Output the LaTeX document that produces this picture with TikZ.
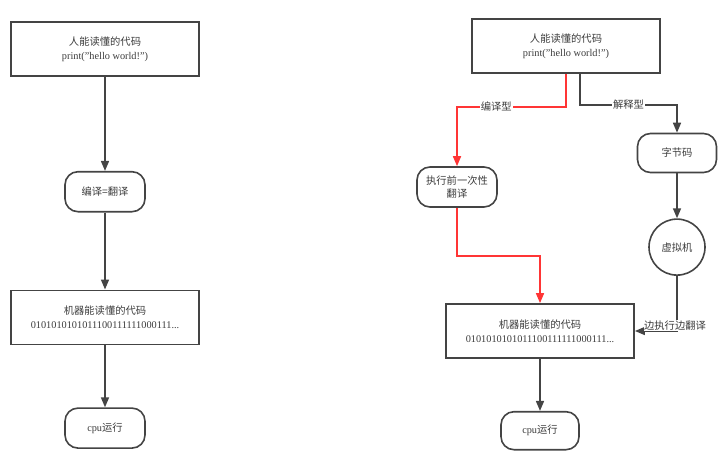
\documentclass[tikz,border=0pt]{standalone}
\usepackage{fontspec}
\setmainfont{Liberation Serif}
\newfontfamily\cjk{Noto Sans CJK SC}
\usetikzlibrary{arrows.meta,positioning}
\newcommand{\zh}[1]{{\cjk #1}}
\definecolor{linegray}{HTML}{444444}
\definecolor{textgray}{HTML}{3C3C3C}
\definecolor{flowred}{HTML}{FF3535}

\begin{document}
\begin{tikzpicture}[>={Triangle[length=10pt,width=8pt]}, line width=1.6pt,
      every node/.style={text=textgray, font=\fontsize{10.3}{13.5}\selectfont, align=center},
      codebox/.style={draw=linegray, line width=1.8pt, minimum width=188pt, minimum height=54pt},
      stepround/.style={draw=linegray, rounded corners=13pt, minimum width=80pt, minimum height=40pt},
      vmcircle/.style={draw=linegray, circle, minimum size=56pt, inner sep=0pt},
      flow/.style={->, draw=linegray},
      redflow/.style={->, draw=flowred},
      flowlabel/.style={fill=white, inner sep=1pt}]
     \useasboundingbox (0,0) rectangle (727pt,-466pt);
     % left: compiled once
     \node[codebox] (ltop) at (105pt,-49pt) {\zh{人能读懂的代码}\\print("hello world!")};
     \node[stepround, below = 94pt of ltop] (lcomp) {\zh{编译=翻译}};
     \node[codebox, below = 77pt of lcomp] (lmach) {\zh{机器能读懂的代码}\\0101010101011100111111000111...};
     \node[stepround, below = 62pt of lmach] (lcpu) {cpu\zh{运行}};
     \draw[flow] (ltop) -- (lcomp);
     \draw[flow] (lcomp) -- (lmach);
     \draw[flow] (lmach) -- (lcpu);
     % right: compiled vs interpreted
     \node[codebox] (rtop) at (566pt,-46pt) {\zh{人能读懂的代码}\\print("hello world!")};
     \node[stepround] (raot) at (457pt,-187pt) {\zh{执行前一次性}\\\zh{翻译}};
     \node[stepround, minimum width=79pt, minimum height=39pt] (rbyte) at (677pt,-153pt) {\zh{字节码}};
     \node[vmcircle, below = 45pt of rbyte] (rvm) {\zh{虚拟机}};
     \node[codebox] (rmach) at (540pt,-331pt) {\zh{机器能读懂的代码}\\0101010101011100111111000111...};
     \node[stepround, minimum width=78pt, minimum height=38pt, below = 52pt of rmach] (rcpu) {cpu\zh{运行}};
     \draw[redflow] (rtop.south) -- ++(0,-33pt) -| node[flowlabel, pos=0.32] {\zh{编译型}} (raot.north);
     \draw[flow] ([xshift=14pt]rtop.south) -- ++(0,-31pt) -| node[flowlabel, pos=0.25] {\zh{解释型}} (rbyte.north);
     \draw[flow] (rbyte) -- (rvm);
     \draw[redflow] (raot.south) -- ++(0,-48pt) -| (rmach.north);
     \draw[flow] (rvm.south) |- node[flowlabel, pos=0.5, xshift=-2pt, yshift=5.5pt, inner sep=0.5pt] {\zh{边执行边翻译}} (rmach.east);
     \draw[flow] (rmach) -- (rcpu);
    \end{tikzpicture}
\end{document}
